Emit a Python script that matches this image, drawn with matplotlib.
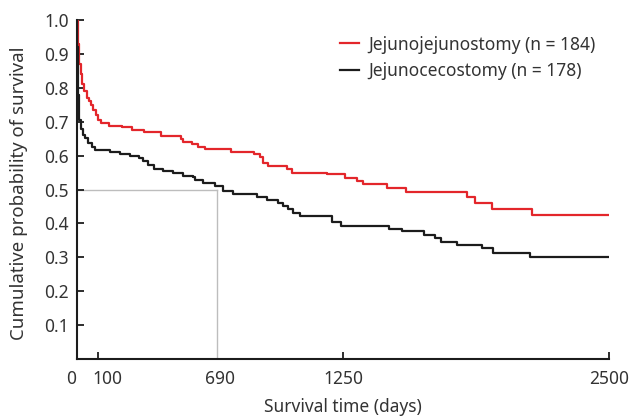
import matplotlib
matplotlib.use("Agg")
import matplotlib.pyplot as plt
from matplotlib.lines import Line2D
from matplotlib.transforms import ScaledTranslation

plt.rcParams['font.family'] = ['Noto Sans', 'DejaVu Sans']

# Kaplan-Meier step data (days, survival probability)
jj_time = [0, 3, 8, 18, 25, 33, 45, 55, 65, 75, 88, 100, 115, 150, 210, 260, 315, 395,
           490, 500, 540, 570, 600, 725, 830, 860, 876, 899, 985, 1009, 1173, 1259,
           1314, 1345, 1455, 1546, 1831, 1870, 1951, 2139, 2500]
jj_surv = [1.00, 0.93, 0.87, 0.84, 0.81, 0.79, 0.77, 0.76, 0.75, 0.735, 0.72, 0.705,
           0.695, 0.688, 0.683, 0.677, 0.670, 0.659, 0.648, 0.641, 0.634, 0.626, 0.621,
           0.612, 0.604, 0.595, 0.579, 0.569, 0.560, 0.550, 0.545, 0.533, 0.525, 0.515,
           0.505, 0.494, 0.477, 0.459, 0.444, 0.425, 0.425]

jc_time = [0, 2, 4, 6, 9, 20, 30, 38, 53, 69, 85, 155, 200, 250, 290, 310, 335, 360,
           405, 453, 500, 547, 554, 594, 648, 688, 735, 844, 891, 946, 970, 993, 1017,
           1048, 1197, 1239, 1468, 1526, 1631, 1682, 1709, 1787, 1902, 1956, 2129, 2500]
jc_surv = [1.00, 0.92, 0.85, 0.78, 0.705, 0.68, 0.66, 0.651, 0.636, 0.626, 0.617, 0.612,
           0.605, 0.599, 0.592, 0.585, 0.572, 0.560, 0.555, 0.548, 0.541, 0.536, 0.528,
           0.518, 0.509, 0.496, 0.487, 0.477, 0.469, 0.460, 0.451, 0.442, 0.432, 0.422,
           0.405, 0.393, 0.383, 0.378, 0.366, 0.357, 0.346, 0.336, 0.327, 0.314, 0.300,
           0.300]

series_labels = ["Jejunojejunostomy (n = 184)", "Jejunocecostomy (n = 178)"]
median_line_x = 660   # gray guide line as drawn in the picture
median_surv = 0.5

x_ticks = [0, 100, 690, 1250, 2500]
y_ticks = [0.1, 0.2, 0.3, 0.4, 0.5, 0.6, 0.7, 0.8, 0.9, 1.0]

red = "#e3262b"
black = "#1c1c1c"
gray = "#bdbdbd"
text_color = "#333333"
fs = 12.5

fig = plt.figure(figsize=(6.33, 4.17), dpi=100)
ax = fig.add_axes([0.1216, 0.139, 0.8404, 0.813])

ax.plot([0, median_line_x], [median_surv, median_surv], color=gray, lw=1.0, zorder=1)
ax.plot([median_line_x, median_line_x], [0, median_surv], color=gray, lw=1.0, zorder=1)

ax.step(jj_time, jj_surv, where='post', color=red, lw=1.6, zorder=2)
ax.step(jc_time, jc_surv, where='post', color=black, lw=1.6, zorder=3)

ax.set_xlim(0, 2500)
ax.set_ylim(0, 1.0)
ax.set_xticks(x_ticks)
ax.set_xticklabels([str(t) for t in x_ticks])
ax.set_yticks(y_ticks)
ax.set_yticklabels([f"{v:.1f}" for v in y_ticks])

for s in ['top', 'right']:
    ax.spines[s].set_visible(False)
for s in ['left', 'bottom']:
    ax.spines[s].set_linewidth(1.5)
    ax.spines[s].set_color(black)

ax.tick_params(axis='both', direction='in', length=5, width=1.3, color=black,
               labelsize=fs, labelcolor=text_color)
ax.tick_params(axis='x', pad=8)
ax.tick_params(axis='y', pad=6)
ax.xaxis.get_major_ticks()[2].tick1line.set_visible(False)
ax.xaxis.get_major_ticks()[0].tick1line.set_visible(False)

# nudge crowded x tick labels like the reference
offsets_px = [-6, 9, -4, 0, 0]
for lab, dx in zip(ax.get_xticklabels(), offsets_px):
    lab.set_transform(lab.get_transform() + ScaledTranslation(dx / 100, 0, fig.dpi_scale_trans))

ax.set_xlabel("Survival time (days)", fontsize=fs, color=text_color, labelpad=7)
ax.set_ylabel("Cumulative probability of survival", fontsize=13.4, color=text_color)
ax.yaxis.set_label_coords(-0.092, 0.488)

handles = [Line2D([], [], color=red, lw=1.6), Line2D([], [], color=black, lw=1.6)]
ax.legend(handles, series_labels, loc='upper left', bbox_to_anchor=(0.474, 0.985),
          frameon=False, fontsize=fs, handlelength=1.1, handletextpad=0.55,
          labelspacing=0.5, labelcolor=text_color, borderaxespad=0.2)

fig.savefig("out.png", dpi=100)
